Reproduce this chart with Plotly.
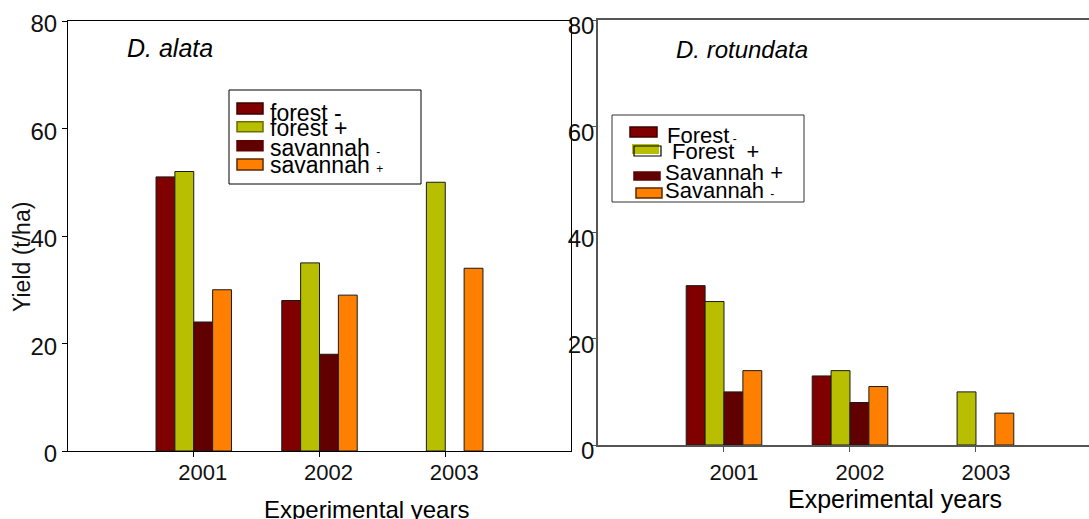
import plotly.graph_objects as go

# ---------------- data ----------------
years = ["2001", "2002", "2003"]
y_ticks = [0, 20, 40, 60, 80]

alata_forest_minus = [51, 28, None]
alata_forest_plus = [52, 35, 50]
alata_savannah_minus = [24, 18, None]
alata_savannah_plus = [30, 29, 34]

rotundata_forest_minus = [30, 13, None]
rotundata_forest_plus = [27, 14, 10]
rotundata_savannah_minus = [10, 8, None]
rotundata_savannah_plus = [14, 11, 6]

series_colors = ["#800000", "#b8be00", "#600000", "#ff8000"]
swatch_borders = ["#3c0000", "#6b6e00", "#600000", "#5a2a00"]

left_legend_labels = ["forest -", "forest +",
                      "savannah <span style='font-size:12px'>-</span>",
                      "savannah <span style='font-size:12px'>+</span>"]
right_legend_labels = ["Forest<span style='font-size:12px'> -</span>", "Forest  +",
                       "Savannah +", "Savannah <span style='font-size:12px'>-</span>"]

left_title = "<i>D. alata</i>"
right_title = "<i>D. rotundata</i>"
x_title = "Experimental years"
y_title = "Yield (t/ha)"

# ---------------- helpers ----------------
W, H = 1089, 519


def fx(p):
    return p / W


def fy(p):
    return 1 - p / H


FONT = "Liberation Sans, Arial, sans-serif"

fig = go.Figure()

alata = [alata_forest_minus, alata_forest_plus, alata_savannah_minus, alata_savannah_plus]
rotundata = [rotundata_forest_minus, rotundata_forest_plus, rotundata_savannah_minus, rotundata_savannah_plus]

for vals, col in zip(alata, series_colors):
    fig.add_trace(go.Bar(x=years, y=vals, marker=dict(color=col, line=dict(color="#1a1a1a", width=1)),
                         xaxis="x", yaxis="y", showlegend=False, hoverinfo="x+y"))
for vals, col in zip(rotundata, series_colors):
    fig.add_trace(go.Bar(x=years, y=vals, marker=dict(color=col, line=dict(color="#1a1a1a", width=1)),
                         xaxis="x2", yaxis="y2", showlegend=False, hoverinfo="x+y"))

xcommon = dict(type="category", showgrid=False, zeroline=False, showline=True,
               ticks="outside", ticklen=5, tickwidth=1, ticklabeloverflow="allow",
               tickfont=dict(family=FONT, size=22, color="#111"))
ycommon = dict(range=[0, 80], tickvals=y_ticks, showgrid=False, zeroline=False, showline=True,
               ticks="outside", ticklen=5, tickwidth=1, ticklabeloverflow="allow",
               tickfont=dict(family=FONT, size=24, color="#111"))

fig.update_layout(
    width=W, height=H,
    margin=dict(l=0, r=0, t=0, b=0, autoexpand=False),
    paper_bgcolor="white", plot_bgcolor="white",
    barmode="group", bargap=0.4, bargroupgap=0,
    xaxis=dict(xcommon, domain=[fx(68), fx(571)], range=[-1, 3], anchor="y",
               linecolor="black", tickcolor="black", mirror=True, ticklabelshift=9,
               ticklabelstandoff=-3),
    yaxis=dict(ycommon, domain=[fy(451), fy(21)], anchor="x",
               linecolor="black", tickcolor="black", mirror=True, ticklabelshift=3),
    xaxis2=dict(xcommon, domain=[fx(598), 1.0], range=[-1, 2.897], anchor="y2",
                linecolor="#555", tickcolor="#555", linewidth=1.5, mirror=True, ticklabelshift=10,
                ticklabelstandoff=2),
    yaxis2=dict(ycommon, domain=[fy(445), fy(20)], anchor="x2",
                linecolor="#555", tickcolor="#555", linewidth=1.5, mirror=False,
                ticklabelshift=6, ticklabelstandoff=-8),
)

shapes = []
annotations = []

# ---- left legend ----
shapes.append(dict(type="rect", xref="paper", yref="paper", x0=fx(229), x1=fx(421), y0=fy(184), y1=fy(90),
                   line=dict(color="black", width=1), fillcolor="white", layer="above"))
left_sw = [(103, 114), (121.7, 131.7), (140.7, 150.7), (159, 170)]
left_mid = [113, 128, 148, 165]
for i, (a, b) in enumerate(left_sw):
    shapes.append(dict(type="rect", xref="paper", yref="paper", x0=fx(237), x1=fx(263), y0=fy(b), y1=fy(a),
                       line=dict(color=swatch_borders[i], width=1.5), fillcolor=series_colors[i], layer="above"))
    annotations.append(dict(xref="paper", yref="paper", x=fx(268), y=fy(left_mid[i]), xanchor="left",
                            yanchor="middle", text=left_legend_labels[i], showarrow=False,
                            font=dict(family=FONT, size=23, color="black")))

# ---- right legend ----
shapes.append(dict(type="rect", xref="paper", yref="paper", x0=fx(612), x1=fx(804), y0=fy(202), y1=fy(115),
                   line=dict(color="#333", width=1), fillcolor="white", layer="above"))
right_sw = [(630, 657, 127, 137), (632, 659, 144, 154), (634, 660, 172, 180), (636, 662, 188, 198)]
right_tx = [665, 670, 663, 663]
right_mid = [135.5, 151, 172, 190.7]
for i, (x0, x1, a, b) in enumerate(right_sw):
    bord = swatch_borders[i] if i != 1 else "rgba(0,0,0,0)"
    shapes.append(dict(type="rect", xref="paper", yref="paper", x0=fx(x0), x1=fx(x1), y0=fy(b), y1=fy(a),
                       line=dict(color=bord, width=1.5), fillcolor=series_colors[i], layer="above"))
    if i == 1:
        shapes.append(dict(type="rect", xref="paper", yref="paper", x0=fx(x0 + 2), x1=fx(x1 + 2),
                           y0=fy(b + 2), y1=fy(a + 2), line=dict(color="black", width=1.2),
                           fillcolor="rgba(0,0,0,0)", layer="above"))
    annotations.append(dict(xref="paper", yref="paper", x=fx(right_tx[i]), y=fy(right_mid[i]), xanchor="left",
                            yanchor="middle", text=right_legend_labels[i], showarrow=False,
                            font=dict(family=FONT, size=22, color="black")))

# ---- titles ----
annotations.append(dict(xref="paper", yref="paper", x=fx(170), y=fy(48), xanchor="center", yanchor="middle",
                        text=left_title, showarrow=False, font=dict(family=FONT, size=25, color="black")))
annotations.append(dict(xref="paper", yref="paper", x=fx(742), y=fy(50), xanchor="center", yanchor="middle",
                        text=right_title, showarrow=False, font=dict(family=FONT, size=24, color="black")))
annotations.append(dict(xref="paper", yref="paper", x=fx(366), y=fy(509), xanchor="center", yanchor="middle",
                        text=x_title, showarrow=False, font=dict(family=FONT, size=24, color="black")))
annotations.append(dict(xref="paper", yref="paper", x=fx(895), y=fy(499), xanchor="center", yanchor="middle",
                        text=x_title, showarrow=False, font=dict(family=FONT, size=25, color="black")))
annotations.append(dict(xref="paper", yref="paper", x=fx(22), y=fy(257), xanchor="center", yanchor="middle",
                        text=y_title, textangle=-90, showarrow=False,
                        font=dict(family=FONT, size=23, color="#111")))

fig.update_layout(shapes=shapes, annotations=annotations)

fig.write_html("out.html", config={"displayModeBar": False},
               post_script="document.body.style.margin='0px';document.body.style.overflow='hidden';")
